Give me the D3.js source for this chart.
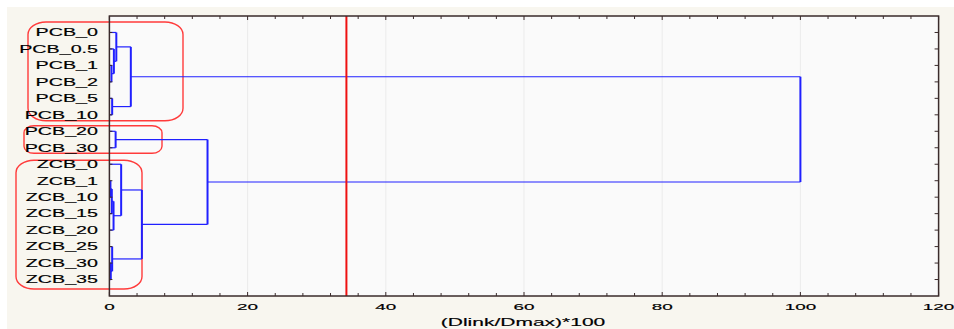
<!DOCTYPE html>
<html><head><meta charset="utf-8">
<script src="https://cdn.jsdelivr.net/npm/d3@7"></script>
<style>html,body{margin:0;padding:0;background:#fff;}svg{display:block;}</style>
</head><body>
<svg id="c" width="954" height="329"></svg>
<script>
// ---- data ----
const leaves = ["PCB_0","PCB_0.5","PCB_1","PCB_2","PCB_5","PCB_10","PCB_20","PCB_30",
  "ZCB_0","ZCB_1","ZCB_10","ZCB_15","ZCB_20","ZCB_25","ZCB_30","ZCB_35"];
// linkage: cluster n+i = merge of mergeA[i] and mergeB[i] at mergeHeight[i]
const mergeA      = [9, 14, 2, 16, 4, 13, 19, 1, 6, 0, 8, 25, 26, 24, 27];
const mergeB      = [10, 15, 3, 11, 5, 17, 12, 18, 7, 23, 22, 20, 21, 28, 29];
const mergeHeight = [0.15, 0.2, 0.3, 0.35, 0.4, 0.4, 0.6, 0.65, 0.9, 1.0, 1.7, 3.1, 4.7, 14.2, 100];
const xTicks = [0, 20, 40, 60, 80, 100, 120];
const cutValue = 34.3;
const xTitle = "(Dlink/Dmax)*100";
// groups highlighted by red rounded boxes: first leaf, last leaf
const groupFirst = ["PCB_0", "PCB_20", "ZCB_0"];
const groupLast  = ["PCB_10", "PCB_30", "ZCB_35"];

// ---- layout ----
const svg = d3.select("#c");
const L = 109.4, R = 938.6, T = 16, B = 296;
svg.append("rect").attr("x",7).attr("y",7).attr("width",947).attr("height",322).attr("fill","#f8f6ef");
svg.append("rect").attr("x",L).attr("y",T).attr("width",R-L).attr("height",B-T).attr("fill","#fafafa");

const x = d3.scaleLinear().domain([0,120]).range([L,R]);
const y = d3.scalePoint().domain(leaves).range([T,B]).padding(1);

// grid
svg.append("g").selectAll("line").data(xTicks.slice(1,-1)).join("line")
  .attr("x1",d=>x(d)).attr("x2",d=>x(d)).attr("y1",T).attr("y2",B)
  .attr("stroke","#ebebeb").attr("stroke-width",1);

// compute node positions
const nodeY = leaves.map(l=>y(l));
const nodeH = leaves.map(()=>0);
mergeA.forEach((a,i)=>{
  const b = mergeB[i];
  nodeY.push((nodeY[a]+nodeY[b])/2);
  nodeH.push(mergeHeight[i]);
});

const hSegs = [], vSegs = [];
mergeA.forEach((a,i)=>{
  const b = mergeB[i], h = mergeHeight[i];
  vSegs.push({x:h, y1:nodeY[a], y2:nodeY[b]});
  hSegs.push({x1:nodeH[a], x2:h, y:nodeY[a]});
  hSegs.push({x1:nodeH[b], x2:h, y:nodeY[b]});
});

// red group boxes
const boxX1 = [28, 24, 16], boxX2 = [183, 162, 142];
const boxPadTop = [10.5, 5.5, 4], boxPadBot = [6, 5.5, 9.5];
const boxR = [18, 10, 18];
groupFirst.forEach((g,i)=>{
  const y1 = y(g)-boxPadTop[i], y2 = y(groupLast[i])+boxPadBot[i];
  svg.append("rect").attr("x",boxX1[i]).attr("y",y1)
    .attr("width",boxX2[i]-boxX1[i]).attr("height",y2-y1)
    .attr("rx",boxR[i]).attr("ry",boxR[i]*0.7)
    .attr("fill","none").attr("stroke","#ff3b3b").attr("stroke-width",1.4);
});

// dendrogram
const dg = svg.append("g").attr("stroke","#2020ff").attr("fill","none");
dg.selectAll("line.h").data(hSegs).join("line").attr("class","h")
  .attr("x1",d=>x(d.x1)).attr("x2",d=>x(d.x2)).attr("y1",d=>d.y).attr("y2",d=>d.y)
  .attr("stroke-width",1.2);
dg.selectAll("line.v").data(vSegs).join("line").attr("class","v")
  .attr("x1",d=>x(d.x)).attr("x2",d=>x(d.x)).attr("y1",d=>d.y1).attr("y2",d=>d.y2)
  .attr("stroke-width",2);

// cut line
svg.append("line").attr("x1",x(cutValue)).attr("x2",x(cutValue)).attr("y1",T).attr("y2",B)
  .attr("stroke","#ee1111").attr("stroke-width",2);

// frame and ticks
const ax = svg.append("g").attr("stroke","#3a2b2b");
ax.append("rect").attr("x",L).attr("y",T).attr("width",R-L).attr("height",B-T)
  .attr("fill","none").attr("stroke-width",1.5);
const minor = d3.range(0,121,4);
ax.selectAll("line.tb").data(minor).join("line").attr("class","tb")
  .attr("x1",d=>x(d)).attr("x2",d=>x(d)).attr("y1",B).attr("y2",d=>B-(d%20===0?4:3)).attr("stroke-width",1);
ax.selectAll("line.tt").data(minor).join("line").attr("class","tt")
  .attr("x1",d=>x(d)).attr("x2",d=>x(d)).attr("y1",T).attr("y2",d=>T+(d%20===0?4:3)).attr("stroke-width",1);
ax.selectAll("line.tr").data(leaves).join("line").attr("class","tr")
  .attr("x1",R).attr("x2",R-4).attr("y1",d=>y(d)).attr("y2",d=>y(d)).attr("stroke-width",1);
ax.selectAll("line.tl").data(leaves).join("line").attr("class","tl")
  .attr("x1",L).attr("x2",L+3).attr("y1",d=>y(d)).attr("y2",d=>y(d)).attr("stroke-width",1);

const font = "Liberation Sans, Arial, sans-serif";
// leaf labels
svg.append("g").selectAll("text").data(leaves).join("text")
  .attr("transform",d=>`translate(98,${y(d)+3.8}) scale(1.97,1)`)
  .attr("text-anchor","end").attr("font-family",font)
  .attr("font-size",10).attr("fill","#000").attr("stroke","#000").attr("stroke-width",0.15).text(d=>d);

// x tick labels
svg.append("g").selectAll("text").data(xTicks).join("text")
  .attr("transform",d=>`translate(${x(d)},310) scale(2.1,1)`)
  .attr("text-anchor","middle").attr("font-family",font)
  .attr("font-size",9).attr("fill","#000").attr("stroke","#000").attr("stroke-width",0.15).text(d=>d);

// title
svg.append("text").attr("transform",`translate(523,325.5) scale(2.1,1)`)
  .attr("text-anchor","middle").attr("font-family",font)
  .attr("font-size",10).attr("fill","#000").attr("stroke","#000").attr("stroke-width",0.15).text(xTitle);
</script>
</body></html>
